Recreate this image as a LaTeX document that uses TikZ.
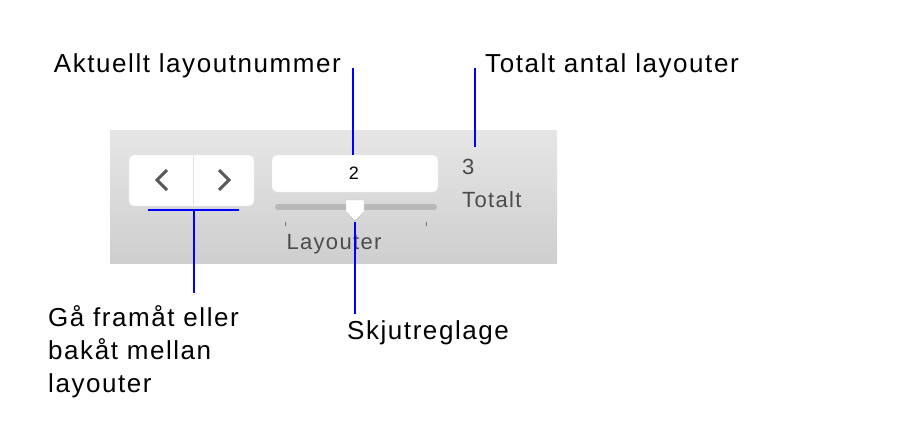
\documentclass[tikz,border=0pt]{standalone}
\usepackage{fontspec}
\setmainfont{Liberation Sans}[LetterSpace=6]
\begin{document}
\begin{tikzpicture}[x=1pt,y=-1pt,
  lbl/.style={font=\fontsize{26}{33}\selectfont,inner sep=0pt},
  ui/.style={font=\fontsize{22}{24}\selectfont,text=black!70,inner sep=0pt},
  call/.style={draw=blue,line width=2.2pt},
  btn/.style={fill=white,rounded corners=5pt,draw=black!8}]
\useasboundingbox (0,0) rectangle (920,439);
\shade[top color=black!10,bottom color=black!19] (110,130) rectangle (557,263);
\path[btn] (129,155) rectangle (254,206);
\draw[black!12] (193,155) -- (193,206);
\draw[black!65,line width=3pt] (167,170) -- (157,180) -- (167,190);
\draw[black!65,line width=3pt] (219,170) -- (229,180) -- (219,190);
\path[btn] (272,155) rectangle (438,192);
\node[ui,text=black,font=\fontsize{18}{20}\selectfont] (num) at (354,173) {2};
\draw[black!28,line width=6pt,line cap=round] (278,207) -- (434,207);
\path[fill=white,draw=black!25] (346,200) -- (364,200) -- (364,212) -- (355,221) -- (346,212) -- cycle;
\fill[black!55] (284.5,222) rectangle (285.5,226);
\fill[black!55] (425.5,222) rectangle (426.5,226);
\node[ui] (lay) at (334,244) {Layouter};
\node[ui,anchor=west] (tot3) at (462,167) {3};
\node[ui,anchor=west] (tot) at (462,200) {Totalt};
\node[lbl,anchor=east] (a) at (341,66) {Aktuellt layoutnummer};
\node[lbl,anchor=west] (t) at (485,66) {Totalt antal layouter};
\node[lbl,anchor=west] (s) at (347,333) {Skjutreglage};
\node[lbl,anchor=north west,align=left] (g) at (48,305) {Gå framåt eller\\bakåt mellan\\layouter};
\coordinate (c1) at (353,68); \coordinate (c2) at (353,155);
\draw[call] (c1) -- (c2);
\coordinate (d1) at (475,68); \coordinate (d2) at (475,147);
\draw[call] (d1) -- (d2);
\coordinate (e1) at (355,222); \coordinate (e2) at (355,314);
\draw[call] (e1) -- (e2);
\coordinate (f1) at (148,210); \coordinate (f2) at (239,210); \coordinate (f3) at (194,210); \coordinate (f4) at (194,293);
\draw[call] (f1) -- (f2); \draw[call] (f3) -- (f4);
\end{tikzpicture}
\end{document}
